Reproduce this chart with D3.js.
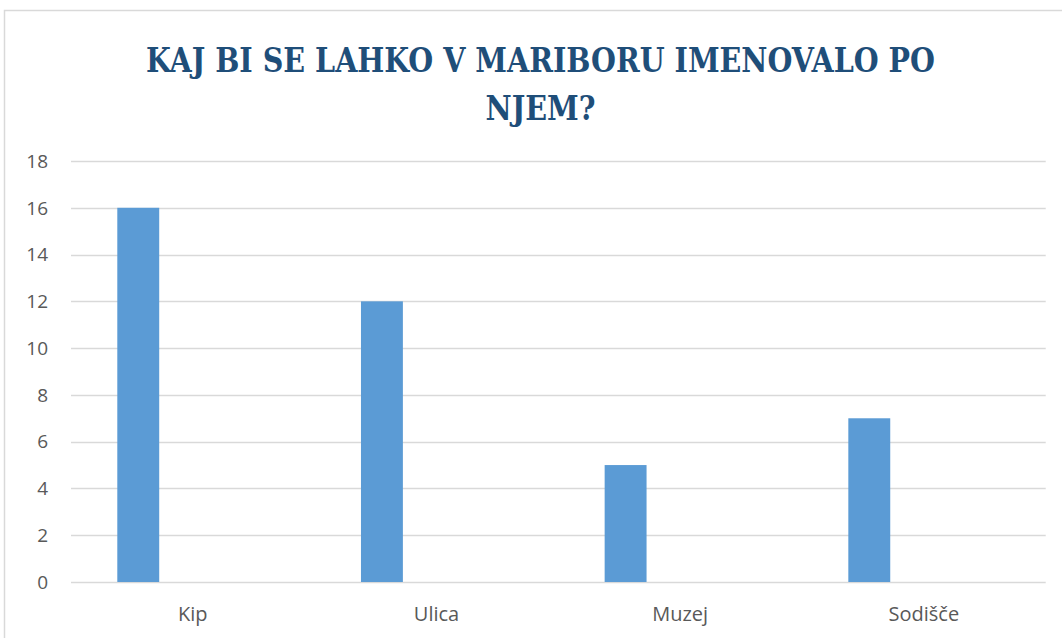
<!DOCTYPE html>
<html>
<head>
<meta charset="utf-8">
<script src="https://cdn.jsdelivr.net/npm/d3@7"></script>
<style>
  body { margin: 0; background: #fff; }
  svg { display: block; }
</style>
</head>
<body>
<svg id="chart"></svg>
<script>
const categories = ["Kip", "Ulica", "Muzej", "Sodišče"];
const values = [16, 12, 5, 7];
const yTicks = [0, 2, 4, 6, 8, 10, 12, 14, 16, 18];
const titleLines = ["KAJ BI SE LAHKO V MARIBORU IMENOVALO PO", "NJEM?"];

const width = 1062, height = 638;
const margin = { top: 161, right: 16, bottom: 56, left: 71 };

const svg = d3.select("#chart")
    .attr("width", width)
    .attr("height", height);

// chart area border
svg.append("rect")
    .attr("x", 4.5)
    .attr("y", 10.5)
    .attr("width", width + 20)
    .attr("height", height + 20)
    .attr("fill", "#fff")
    .attr("stroke", "#d9d9d9")
    .attr("stroke-width", 1.5);

const plotW = 1045.7 - margin.left;
const plotH = 582 - margin.top;

const chart = svg.append("g")
    .attr("transform", `translate(${margin.left},${margin.top})`);

const x = d3.scaleBand().domain(categories).range([0, plotW]);
// series slots per category, only the first one is filled
const xInner = d3.scaleBand()
    .domain(["s1", "s2", "s3"])
    .range([x.bandwidth() * 0.19, x.bandwidth() * 0.19 + x.bandwidth() * 0.172 * 3]);
const y = d3.scaleLinear().domain([0, 18]).range([plotH, 0]);

// gridlines
chart.append("g")
    .selectAll("line")
    .data(yTicks)
    .join("line")
    .attr("x1", 0)
    .attr("x2", plotW)
    .attr("y1", d => Math.round(y(d)) + 0.5)
    .attr("y2", d => Math.round(y(d)) + 0.5)
    .attr("stroke", "#d9d9d9")
    .attr("stroke-width", 1.3);

// y labels
chart.append("g")
    .selectAll("text")
    .data(yTicks)
    .join("text")
    .attr("x", -23)
    .attr("y", d => y(d) + 6.8)
    .attr("text-anchor", "end")
    .attr("font-family", "'Open Sans', sans-serif")
    .attr("font-size", "19px")
    .attr("fill", "#595959")
    .text(d => d);

// bars
chart.append("g")
    .selectAll("rect")
    .data(values)
    .join("rect")
    .attr("x", (d, i) => x(categories[i]) + xInner("s1"))
    .attr("width", xInner.bandwidth())
    .attr("y", d => y(d))
    .attr("height", d => plotH - y(d))
    .attr("fill", "#5b9bd5");

// category labels
chart.append("g")
    .selectAll("text")
    .data(categories)
    .join("text")
    .attr("x", d => x(d) + x.bandwidth() / 2)
    .attr("y", plotH + 38.5)
    .attr("text-anchor", "middle")
    .attr("font-family", "'Open Sans', sans-serif")
    .attr("font-size", "20px")
    .attr("fill", "#595959")
    .text(d => d);

// title
const titleWidths = [789, 110];
svg.append("g")
    .selectAll("text")
    .data(titleLines)
    .join("text")
    .attr("x", 540.5)
    .attr("y", (d, i) => 72 + i * 48)
    .attr("text-anchor", "middle")
    .attr("font-family", "'DejaVu Serif Condensed', 'DejaVu Serif', serif")
    .attr("font-weight", "bold")
    .attr("font-size", "34px")
    .attr("fill", "#1f4e79")
    .attr("textLength", (d, i) => titleWidths[i])
    .attr("lengthAdjust", "spacingAndGlyphs")
    .text(d => d);
</script>
</body>
</html>
